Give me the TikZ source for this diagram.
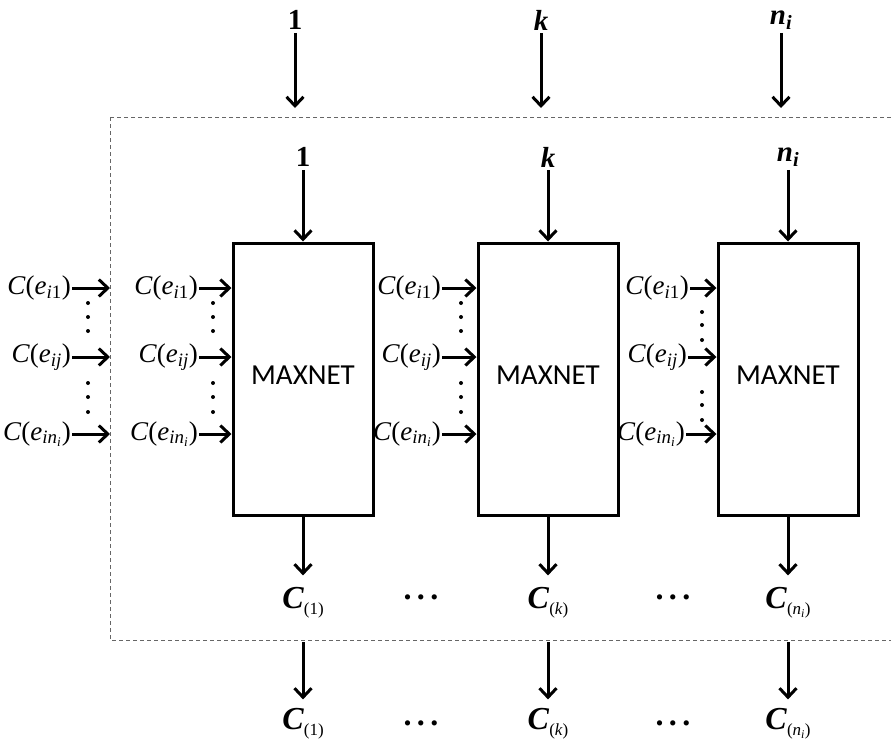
\documentclass[tikz,border=0pt]{standalone}
\usepackage{amsmath, amssymb}
\usepackage{fontspec}
\setmainfont{Liberation Serif}
\newfontfamily\boxfont{Carlito}
\usetikzlibrary{arrows.meta}

% cost label C(e_..) and output label C_(..)
\newcommand{\ce}[1]{\textit{C}(\textit{e}\textsubscript{#1})}
\newcommand{\cout}[1]{\textit{C}\raisebox{-6pt}{\fontsize{17}{19}\selectfont\mdseries(#1)}}

\begin{document}
\begin{tikzpicture}[
    x=1pt, y=-1pt,
    >={Straight Barb[length=9pt, width=17pt]},
    net/.style={draw, rectangle, line width=3pt, minimum width=140pt, minimum height=272pt, font=\boxfont\fontsize{29}{33}\selectfont},
    lbl/.style={anchor=east, inner sep=1pt, font=\fontsize{27}{30}\selectfont},
    idx/.style={inner sep=3pt, font=\fontsize{29}{32}\selectfont\bfseries},
    res/.style={inner sep=3pt, font=\fontsize{32}{34}\selectfont\bfseries},
    arr/.style={->, line width=3pt},
    frame/.style={draw=black!60, line width=1pt, dash pattern=on 4pt off 3pt}
]
    \useasboundingbox (0,0) rectangle (891,753);

    % dashed border of the whole stage
    \draw[frame] (110,117) rectangle (905,640);
    \coordinate (dl) at (110,0);

    % the three maxnets
    \node[net] (m1) at (303,379) {\raisebox{8pt}{MAXNET}};
    \node[net] (mk) at (548,379) {\raisebox{8pt}{MAXNET}};
    \node[net] (mn) at (788,379) {\raisebox{8pt}{MAXNET}};

    % indices from outside
    \node[idx] (top1) at (295,20) {1};
    \node[idx] (topk) at (541,20) {\textit{k}};
    \node[idx] (topn) at (781,20) {\textit{n\textsubscript{i}}};
    \coordinate (t1) at (295,108);
    \coordinate (tk) at (541,108);
    \coordinate (tn) at (781,108);
    \draw[arr] (top1) -- (t1);
    \draw[arr] (topk) -- (tk);
    \draw[arr] (topn) -- (tn);

    % indices inside
    \node[idx] (in1) at (303,157) {1};
    \node[idx] (ink) at (548,157) {\textit{k}};
    \node[idx] (inn) at (788,157) {\textit{n\textsubscript{i}}};
    \draw[arr] (in1) -- (m1);
    \draw[arr] (ink) -- (mk);
    \draw[arr] (inn) -- (mn);

    % inputs to the stage
    \node[lbl] (a1) at (72,288) {\ce{\textit{i}1}};
    \node[lbl] (a2) at (72,357) {\ce{\textit{ij}}};
    \node[lbl] (a3) at (72,434) {\ce{\textit{in\textsubscript{i}}}};
    \draw[arr] (a1) -- (a1 -| dl);
    \draw[arr] (a2) -- (a2 -| dl);
    \draw[arr] (a3) -- (a3 -| dl);

    % inputs to each maxnet
    \node[lbl] (b1) at (199,288) {\ce{\textit{i}1}};
    \node[lbl] (b2) at (199,357) {\ce{\textit{ij}}};
    \node[lbl] (b3) at (199,434) {\ce{\textit{in\textsubscript{i}}}};
    \draw[arr] (b1) -- (b1 -| m1.west);
    \draw[arr] (b2) -- (b2 -| m1.west);
    \draw[arr] (b3) -- (b3 -| m1.west);

    \node[lbl] (c1) at (442,288) {\ce{\textit{i}1}};
    \node[lbl] (c2) at (442,357) {\ce{\textit{ij}}};
    \node[lbl] (c3) at (442,434) {\ce{\textit{in\textsubscript{i}}}};
    \draw[arr] (c1) -- (c1 -| mk.west);
    \draw[arr] (c2) -- (c2 -| mk.west);
    \draw[arr] (c3) -- (c3 -| mk.west);

    \node[lbl] (d1) at (690,288) {\ce{\textit{i}1}};
    \node[lbl] (d2) at (688,357) {\ce{\textit{ij}}};
    \node[lbl] (d3) at (686,434) {\ce{\textit{in\textsubscript{i}}}};
    \draw[arr] (d1) -- (d1 -| mn.west);
    \draw[arr] (d2) -- (d2 -| mn.west);
    \draw[arr] (d3) -- (d3 -| mn.west);

    % vertical dots between rows
    \foreach \x in {88,213,461}
        \foreach \y in {303,317,331,383,397,412}
            \fill (\x,\y) circle (2pt);
    \foreach \y in {312,325,340,392,405,420}
        \fill (702,\y) circle (2pt);

    % outputs inside the stage
    \node[res] (out1) at (303,603) {\cout{1}};
    \node[res] (outk) at (548,603) {\cout{\textit{k}}};
    \node[res] (outn) at (788,603) {\cout{\textit{n\textsubscript{i}}}};
    \node[res] (h1) at (421,597) {.\,.\,.};
    \node[res] (h2) at (673,597) {.\,.\,.};
    \draw[arr, shorten >=9pt] (m1) -- (out1);
    \draw[arr, shorten >=9pt] (mk) -- (outk);
    \draw[arr, shorten >=9pt] (mn) -- (outn);

    % outputs of the stage
    \coordinate (e1) at (303,642);
    \coordinate (ek) at (548,642);
    \coordinate (en) at (788,642);
    \node[res] (res1) at (303,724) {\cout{1}};
    \node[res] (resk) at (548,724) {\cout{\textit{k}}};
    \node[res] (resn) at (788,724) {\cout{\textit{n\textsubscript{i}}}};
    \node[res] (h3) at (421,723) {.\,.\,.};
    \node[res] (h4) at (673,723) {.\,.\,.};
    \draw[arr, shorten >=6pt] (e1) -- (res1);
    \draw[arr, shorten >=6pt] (ek) -- (resk);
    \draw[arr, shorten >=6pt] (en) -- (resn);

\end{tikzpicture}
\end{document}
